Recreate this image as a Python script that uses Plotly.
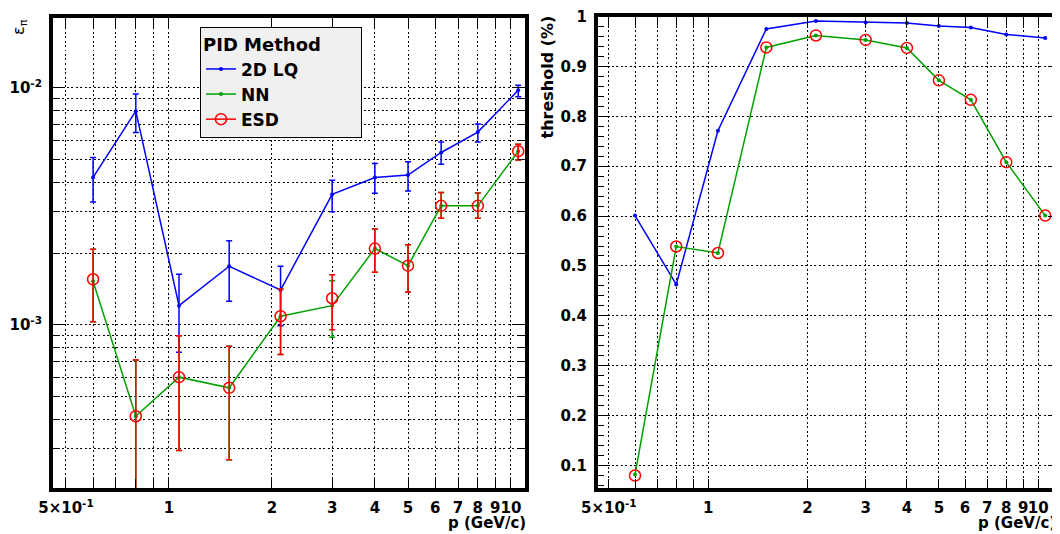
import plotly.graph_objects as go

# ---------------- data ----------------
p_values = [0.6, 0.8, 1.07, 1.5, 2.12, 3.0, 4.0, 5.0, 6.25, 8.0, 10.5]

# left panel: pion efficiency (log scale)
lq_eff = [4.19e-3, 7.98e-3, 1.206e-3, 1.768e-3, 1.404e-3, 3.555e-3, 4.19e-3, 4.29e-3, 5.34e-3, 6.51e-3, 9.78e-3]
lq_hi = [5.09e-3, 9.43e-3, 1.635e-3, 2.265e-3, 1.77e-3, 4.08e-3, 4.80e-3, 4.88e-3, 5.92e-3, 7.05e-3, 1.026e-2]
lq_lo = [3.30e-3, 6.49e-3, 7.67e-4, 1.259e-3, 9.93e-4, 3.00e-3, 3.59e-3, 3.67e-3, 4.76e-3, 5.92e-3, 9.17e-3]

nn_eff = [1.53e-3, 4.12e-4, 6.02e-4, 5.43e-4, 1.088e-3, 1.206e-3, 2.10e-3, 1.778e-3, 3.18e-3, 3.18e-3, 5.41e-3]
nn_hi = [2.085e-3, 7.12e-4, 9.01e-4, 8.13e-4, 1.418e-3, 1.537e-3, 2.54e-3, 2.18e-3, 3.62e-3, 3.60e-3, 5.79e-3]
nn_lo = [1.032e-3, 1.0e-4, 2.95e-4, 2.70e-4, 7.50e-4, 8.87e-4, 1.667e-3, 1.374e-3, 2.82e-3, 2.82e-3, 4.96e-3]

esd_eff = [1.558e-3, 4.12e-4, 6.02e-4, 5.43e-4, 1.088e-3, 1.296e-3, 2.10e-3, 1.778e-3, 3.18e-3, 3.18e-3, 5.41e-3]
esd_hi = [2.085e-3, 7.12e-4, 9.01e-4, 8.13e-4, 1.418e-3, 1.63e-3, 2.54e-3, 2.18e-3, 3.62e-3, 3.60e-3, 5.79e-3]
esd_lo = [1.032e-3, 1.0e-4, 2.95e-4, 2.70e-4, 7.50e-4, 9.55e-4, 1.667e-3, 1.374e-3, 2.82e-3, 2.82e-3, 4.96e-3]

# right panel: threshold
lq_thr = [0.601, 0.463, 0.771, 0.975, 0.991, 0.988, 0.987, 0.981, 0.978, 0.964, 0.957]
nn_thr = [0.082, 0.539, 0.526, 0.938, 0.962, 0.953, 0.937, 0.872, 0.833, 0.708, 0.601]
esd_thr = [0.080, 0.539, 0.526, 0.938, 0.962, 0.953, 0.937, 0.872, 0.833, 0.708, 0.601]

# ticks
x_major = [0.5, 1, 2, 3, 4, 5, 6, 7, 8, 9, 10]
x_major_text = ["5\u00d710<sup>-1</sup>", "1", "2", "3", "4", "5", "6", "7", "8", "9", "10"]
x_minor = [0.6, 0.7, 0.8, 0.9]
y_major = [1e-3, 1e-2]
y_major_text = ["10<sup>-3</sup>", "10<sup>-2</sup>"]
y_minor = [2e-4, 3e-4, 4e-4, 5e-4, 6e-4, 7e-4, 8e-4, 9e-4,
           2e-3, 3e-3, 4e-3, 5e-3, 6e-3, 7e-3, 8e-3, 9e-3, 2e-2]
thr_major = [0.1, 0.2, 0.3, 0.4, 0.5, 0.6, 0.7, 0.8, 0.9, 1.0]
thr_major_text = ["0.1", "0.2", "0.3", "0.4", "0.5", "0.6", "0.7", "0.8", "0.9", "1"]

# ---------------- style ----------------
BLUE = "#0000ff"
GREEN = "#00a000"
RED = "#ff0000"
FONT = "DejaVu Sans"
OFF = 8            # page body margin of the html page
FW, FH = 1060 - OFF, 534 - OFF


def px(x):
    """screen pixel x -> paper fraction"""
    return (x - OFF) / FW


def py(y):
    """screen pixel y (from top) -> paper fraction"""
    return 1 - (y - OFF) / FH


def diff(a, b):
    return [x - y for x, y in zip(a, b)]


fig = go.Figure()

# ---- left panel ----
fig.add_trace(go.Scatter(
    x=p_values, y=lq_eff, mode="lines+markers", name="2D LQ",
    line=dict(color=BLUE, width=1.5), marker=dict(color=BLUE, size=4),
    error_y=dict(type="data", symmetric=False, array=diff(lq_hi, lq_eff),
                 arrayminus=diff(lq_eff, lq_lo), color=BLUE, thickness=1.5, width=3),
    xaxis="x", yaxis="y"))
fig.add_trace(go.Scatter(
    x=p_values, y=nn_eff, mode="lines+markers", name="NN",
    line=dict(color=GREEN, width=1.5), marker=dict(color=GREEN, size=4),
    error_y=dict(type="data", symmetric=False, array=diff(nn_hi, nn_eff),
                 arrayminus=diff(nn_eff, nn_lo), color=GREEN, thickness=1.5, width=3),
    xaxis="x", yaxis="y"))
fig.add_trace(go.Scatter(
    x=p_values, y=esd_eff, mode="markers", name="ESD", showlegend=False,
    marker=dict(symbol="circle-open", color=RED, size=11, line=dict(width=1.5)),
    error_y=dict(type="data", symmetric=False, array=diff(esd_hi, esd_eff),
                 arrayminus=diff(esd_eff, esd_lo), color=RED, thickness=1.5, width=3),
    xaxis="x", yaxis="y"))
# legend entry for ESD (line + open circle, as in the original legend)
fig.add_trace(go.Scatter(
    x=[None], y=[None], mode="lines+markers", name="ESD",
    line=dict(color=RED, width=1.5),
    marker=dict(symbol="circle-open", color=RED, size=11, line=dict(width=1.5)),
    xaxis="x", yaxis="y"))

# ---- right panel ----
fig.add_trace(go.Scatter(
    x=p_values, y=lq_thr, mode="lines+markers", showlegend=False,
    line=dict(color=BLUE, width=1.5), marker=dict(color=BLUE, size=4),
    xaxis="x2", yaxis="y2"))
fig.add_trace(go.Scatter(
    x=p_values, y=nn_thr, mode="lines+markers", showlegend=False,
    line=dict(color=GREEN, width=1.5), marker=dict(color=GREEN, size=4),
    xaxis="x2", yaxis="y2"))
fig.add_trace(go.Scatter(
    x=p_values, y=esd_thr, mode="markers", showlegend=False,
    marker=dict(symbol="circle-open", color=RED, size=11, line=dict(width=1.5)),
    xaxis="x2", yaxis="y2"))

xtickfont = dict(family=FONT, size=15, color="black", weight="bold")
ytickfont = dict(family=FONT, size=15, color="black", weight="bold")
grid = dict(showgrid=True, gridcolor="black", gridwidth=1, griddash="2px,2.5px")
frame = dict(showline=True, linecolor="black", linewidth=4, mirror="ticks",
             ticks="inside", tickcolor="black", tickwidth=1, zeroline=False,
             automargin=False)

xaxis_common = dict(
    type="log", tickmode="array", tickvals=x_major, ticktext=x_major_text,
    ticklen=9, tickfont=xtickfont, ticklabelstandoff=3, tickangle=0,
    minor=dict(tickmode="array", tickvals=x_minor, ticks="inside", ticklen=9,
               tickcolor="black", tickwidth=1, **grid),
    **grid, **frame)

fig.update_layout(
    width=FW, height=FH,
    margin=dict(l=0, r=0, t=0, b=0),
    paper_bgcolor="white", plot_bgcolor="white",
    font=dict(family=FONT, color="black"),
    xaxis=dict(domain=[px(53), px(525)], range=[-0.339, 1.041], anchor="y",
               **xaxis_common),
    yaxis=dict(domain=[py(488), py(18)], range=[-3.688, -1.705],
               type="log", anchor="x", tickmode="array", tickvals=y_major,
               ticktext=y_major_text, ticklen=12, tickfont=ytickfont,
               ticklabelstandoff=4, tickangle=0,
               minor=dict(tickmode="array", tickvals=y_minor, ticks="inside",
                          ticklen=7, tickcolor="black", tickwidth=1, **grid),
               **grid, **frame),
    xaxis2=dict(domain=[px(598), 1.0], range=[-0.334, 1.066], anchor="y2",
                **xaxis_common),
    yaxis2=dict(domain=[py(488), py(16.5)], range=[0.055, 1.0],
                anchor="x2", tickmode="array", tickvals=thr_major,
                ticktext=thr_major_text, ticklen=12, tickfont=ytickfont,
                ticklabelstandoff=4, tickangle=0,
                minor=dict(dtick=0.02, ticks="inside", ticklen=6,
                           tickcolor="black", tickwidth=1, showgrid=False),
                **grid, **frame),
    legend=dict(
        x=px(200), y=py(27), xanchor="left", yanchor="top",
        bgcolor="#f0f0f0", bordercolor="black", borderwidth=1,
        title=dict(text="PID Method" + "\u00a0" * 6,
                   font=dict(family=FONT, size=18, color="black", weight="bold")),
        font=dict(family=FONT, size=17, color="black", weight="bold"),
        itemwidth=30, tracegroupgap=0,
    ),
    annotations=[
        dict(text="\u03b5<sub>\u03c0</sub>", x=px(20), y=py(17), xref="paper",
             yref="paper", xanchor="center", yanchor="top", textangle=-90,
             showarrow=False, font=dict(family=FONT, size=16, color="black")),
        dict(text="threshold (%)", x=px(547), y=py(14), xref="paper",
             yref="paper", xanchor="center", yanchor="top", textangle=-90,
             showarrow=False,
             font=dict(family=FONT, size=16, color="black", weight="bold")),
        dict(text="p (GeV/c)", x=px(528), y=py(523), xref="paper",
             yref="paper", xanchor="right", yanchor="middle", showarrow=False,
             font=dict(family=FONT, size=15, color="black", weight="bold")),
        dict(text="p (GeV/c)", x=px(1058), y=py(523), xref="paper",
             yref="paper", xanchor="right", yanchor="middle", showarrow=False,
             font=dict(family=FONT, size=15, color="black", weight="bold")),
    ],
)

fig.write_html("out.html")
